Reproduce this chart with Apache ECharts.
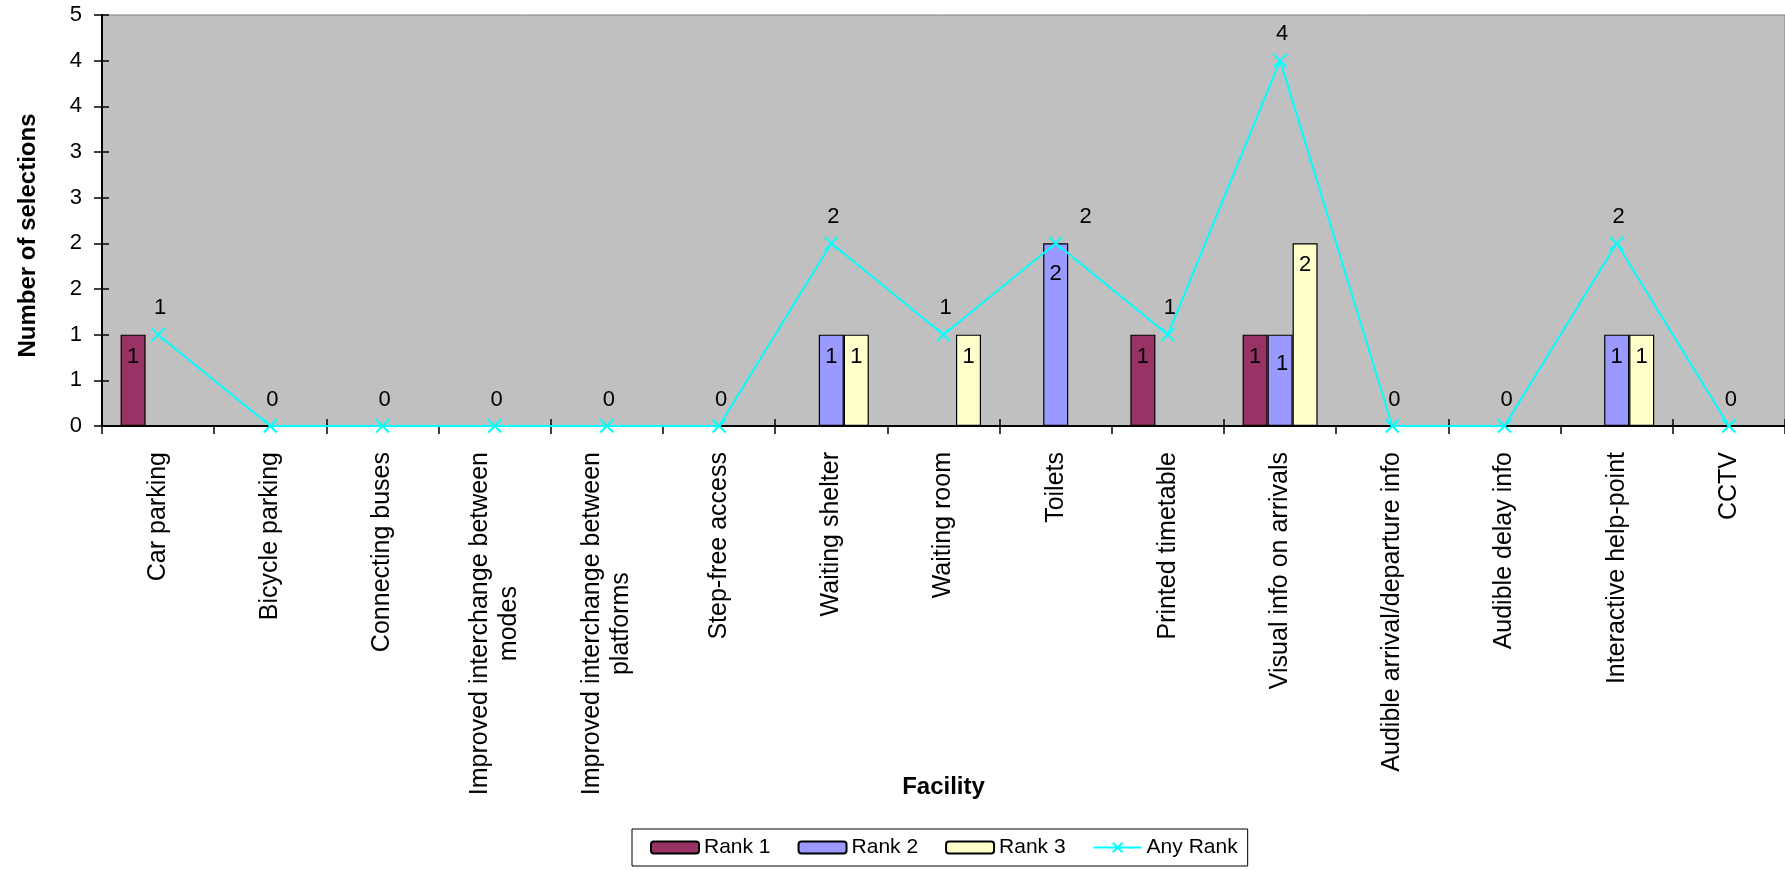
<!DOCTYPE html>
<html>
<head>
<meta charset="utf-8">
<script src="https://cdn.jsdelivr.net/npm/echarts@6/dist/echarts.min.js"></script>
<style>
html,body{margin:0;padding:0;background:#fff;}
#chart{width:1785px;height:871px;}
</style>
</head>
<body>
<div id="chart"></div>
<script>
const categories = [
  'Car parking', 'Bicycle parking', 'Connecting buses',
  'Improved interchange between\nmodes', 'Improved interchange between\nplatforms',
  'Step-free access', 'Waiting shelter', 'Waiting room', 'Toilets',
  'Printed timetable', 'Visual info on arrivals', 'Audible arrival/departure info',
  'Audible delay info', 'Interactive help-point', 'CCTV'
];
const rank1 = [1, null, null, null, null, null, null, null, null, 1, 1, null, null, null, null];
const rank2 = [null, null, null, null, null, null, 1, null, 2, null, 1, null, null, 1, null];
const rank3 = [null, null, null, null, null, null, 1, 1, null, null, 2, null, null, 1, null];
const anyRank = [1, 0, 0, 0, 0, 0, 2, 1, 2, 1, 4, 0, 0, 2, 0];
const yTickLabels = ['0', '1', '1', '2', '2', '3', '3', '4', '4', '5'];

const FONT = 'Liberation Sans, Arial, sans-serif';
const chart = echarts.init(document.getElementById('chart'));

// label placement tweaks (style only, keyed by category index)
const lineLabelShift = { 8: [30, 0] };
const rank2LabelShift = { 8: [0, 9], 10: [2, 7] };

function withLabelShift(data, shifts) {
  return data.map(function (v, i) {
    if (shifts[i] && v != null) return { value: v, label: { offset: shifts[i] } };
    return v;
  });
}

const barLabel = {
  show: true, position: 'insideTop', distance: 11,
  color: '#000', fontSize: 22, fontFamily: FONT
};
function barSeries(name, data, color) {
  return {
    name, type: 'bar', data, barWidth: 25, barGap: '0%',
    itemStyle: { color, borderColor: '#000', borderWidth: 1.2 },
    label: barLabel, z: 2
  };
}

chart.setOption({
  animation: false,
  textStyle: { fontFamily: FONT },
  grid: {
    left: 102, top: 15, right: -1, bottom: 445,
    show: true, backgroundColor: '#C0C0C0', borderColor: '#808080', borderWidth: 1
  },
  legend: {
    left: 632, top: 829,
    padding: [8, 10, 8, 18],
    itemGap: 27, itemWidth: 48, itemHeight: 12,
    backgroundColor: '#fff', borderColor: '#000', borderWidth: 1,
    textStyle: { fontSize: 21, color: '#000', fontFamily: FONT },
    data: ['Rank 1', 'Rank 2', 'Rank 3', 'Any Rank']
  },
  xAxis: [{
    type: 'category', data: categories, position: 'bottom',
    name: 'Facility', nameLocation: 'middle', nameGap: 349, nameMoveOverlap: false,
    nameTextStyle: { fontSize: 24, fontWeight: 'bold', color: '#000', fontFamily: FONT },
    axisLine: { show: true, lineStyle: { color: '#000', width: 2 } },
    axisTick: { show: true, inside: false, length: 8, lineStyle: { color: '#000', width: 1.5 } },
    axisLabel: {
      interval: 0, rotate: 90, margin: 26,
      fontSize: 25, color: '#000', fontFamily: FONT,
      formatter: function (v) {
        return v.split('\n').map(function (s) { return '{c|' + s + '}'; }).join('\n');
      },
      rich: { c: { align: 'center', fontSize: 25, lineHeight: 29, color: '#000', fontFamily: FONT } }
    },
    splitLine: { show: false }
  }, {
    type: 'category', data: categories, position: 'bottom', offset: 0,
    axisLine: { show: false },
    axisTick: { show: true, inside: true, length: 7, lineStyle: { color: '#000', width: 1.5 } },
    axisLabel: { show: false },
    splitLine: { show: false }
  }],
  yAxis: [{
    type: 'value', min: 0, max: 4.5, interval: 0.5, position: 'left',
    name: 'Number of selections', nameLocation: 'middle', nameGap: 62, nameMoveOverlap: false,
    nameTextStyle: { fontSize: 24, fontWeight: 'bold', color: '#000', fontFamily: FONT, padding: [0, 30, 0, 0] },
    axisLine: { show: true, lineStyle: { color: '#000', width: 2 } },
    axisTick: { show: true, inside: false, length: 8, lineStyle: { color: '#000', width: 1.5 } },
    axisLabel: {
      margin: 20, fontSize: 22, color: '#000', fontFamily: FONT,
      formatter: function (v, i) { return yTickLabels[i]; }
    },
    splitLine: { show: false }
  }, {
    type: 'value', min: 0, max: 4.5, interval: 0.5, position: 'left', offset: 0,
    axisLine: { show: false },
    axisTick: { show: true, inside: true, length: 7, lineStyle: { color: '#000', width: 1.5 } },
    axisLabel: { show: false },
    splitLine: { show: false }
  }],
  series: [
    barSeries('Rank 1', rank1, '#993366'),
    barSeries('Rank 2', withLabelShift(rank2, rank2LabelShift), '#9999FF'),
    barSeries('Rank 3', rank3, '#FFFFCC'),
    {
      name: 'Any Rank', type: 'line', data: withLabelShift(anyRank, lineLabelShift), z: 5,
      symbol: 'path://M0,0L10,10M10,0L0,10', symbolSize: 13,
      lineStyle: { color: '#00FFFF', width: 2 },
      itemStyle: { color: '#00FFFF', borderColor: '#00FFFF', borderWidth: 2 },
      label: {
        show: true, position: 'top', distance: 8, offset: [2, 0],
        color: '#000', fontSize: 22, fontFamily: FONT
      }
    }
  ]
});
</script>
</body>
</html>
